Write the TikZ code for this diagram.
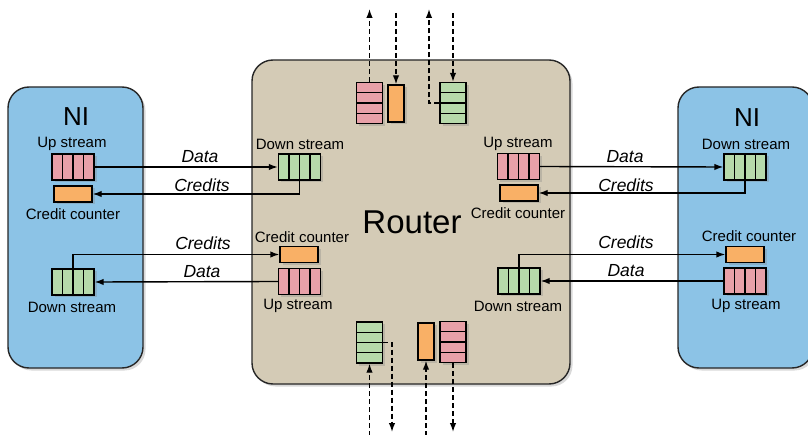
\documentclass[tikz,border=0pt]{standalone}
\usepackage{fontspec}
\setmainfont{Liberation Sans}
\usetikzlibrary{arrows.meta,shadows,calc}
\definecolor{niblue}{HTML}{8CC3E6}
\definecolor{rbeige}{HTML}{D4CBB6}
\definecolor{qpink}{HTML}{E8A0A8}
\definecolor{qgreen}{HTML}{B7DAAB}
\definecolor{qorange}{HTML}{F9B066}
\begin{document}
\begin{tikzpicture}[x=1pt,y=-1pt,
 shad/.style={drop shadow={shadow xshift=2.5pt,shadow yshift=-2.5pt,opacity=0.3}},
 block/.style={draw=black!85,line width=1.4pt,rounded corners=21pt,shad,inner sep=0},
 qbase/.style={draw=black,line width=1.4pt,inner sep=0,shad},
 hq/.style={qbase,minimum width=42,minimum height=26,
   path picture={\foreach \t in {0.25,0.5,0.75}{\draw[line width=1.4pt] ($(path picture bounding box.north west)!\t!(path picture bounding box.north east)$) -- ($(path picture bounding box.south west)!\t!(path picture bounding box.south east)$);}}},
 vq/.style={qbase,minimum width=26,minimum height=41,
   path picture={\foreach \t in {0.25,0.5,0.75}{\draw[line width=1.4pt] ($(path picture bounding box.north west)!\t!(path picture bounding box.south west)$) -- ($(path picture bounding box.north east)!\t!(path picture bounding box.south east)$);}}},
 ctr/.style={qbase,fill=qorange,minimum width=38,minimum height=16},
 vctr/.style={qbase,fill=qorange,minimum width=16,minimum height=37},
 lbl/.style={font=\fontsize{15}{17}\selectfont,inner sep=0},
 flow/.style={font=\fontsize{17.5}{20}\selectfont\itshape,inner sep=0},
 link/.style={line width=1.4pt,-{Latex[length=9pt,width=6.5pt]}},
 dlink/.style={link,dash pattern=on 5pt off 3pt},
]
\useasboundingbox (0,0) rectangle (808,435);
\clip (0,0) rectangle (808,435);

% blocks
\node[block,fill=niblue,minimum width=135,minimum height=281] (lni) at (75.5,227.5) {};
\node[block,fill=rbeige,minimum width=318,minimum height=324] (rt) at (411,222) {};
\node[block,fill=niblue,minimum width=135,minimum height=281] (rni) at (745.5,227.5) {};

\node[font=\fontsize{26}{30}\selectfont,inner sep=0] (lnit) at (76,117) {NI};
\node[font=\fontsize{26}{30}\selectfont,inner sep=0] (rnit) at (747,118) {NI};
\node[font=\fontsize{33}{38}\selectfont,inner sep=0] (rtt) at (412,222) {Router};

% left NI
\node[lbl] (l1) at (72,144) {Up stream};
\node[hq,fill=qpink] (lup) at (73,167) {};
\node[ctr] (lcc) at (73,194) {};
\node[lbl] (l2) at (73,214) {Credit counter};
\node[hq,fill=qgreen] (ldn) at (73,282) {};
\node[lbl] (l3) at (72,307) {Down stream};

% router left
\node[lbl] (r1) at (300,144) {Down stream};
\node[hq,fill=qgreen] (rdl) at (299.5,167) {};
\node[lbl] (r2) at (302,237) {Credit counter};
\node[ctr] (rcl) at (299,254.5) {};
\node[hq,fill=qpink] (rul) at (299.5,281.5) {};
\node[lbl] (r3) at (298,306) {Up stream};

% router right
\node[lbl] (r4) at (518,144) {Up stream};
\node[hq,fill=qpink] (rur) at (518.5,166.5) {};
\node[ctr] (rcr) at (519,193) {};
\node[lbl] (r5) at (518,213) {Credit counter};
\node[hq,fill=qgreen] (rdr) at (519,281) {};
\node[lbl] (r6) at (518,306) {Down stream};

% right NI
\node[lbl] (n1) at (746,144) {Down stream};
\node[hq,fill=qgreen] (ndn) at (745,167) {};
\node[lbl] (n2) at (749,236) {Credit counter};
\node[ctr] (ncc) at (745,254.5) {};
\node[hq,fill=qpink] (nup) at (745,281) {};
\node[lbl] (n3) at (746,306) {Up stream};

% router top
\node[vq,fill=qpink] (tup) at (369.5,103) {};
\node[vctr] (tcc) at (396,103.5) {};
\node[vq,fill=qgreen] (tdn) at (453,103) {};
% router bottom
\node[vq,fill=qgreen] (bdn) at (369.5,342.5) {};
\node[vctr] (bcc) at (426,341.5) {};
\node[vq,fill=qpink] (bup) at (453,342) {};

% horizontal links
\draw[link] (lup.east) -- (rdl.west);
\draw[link] (rdl.south) |- (lcc.east);
\draw[link] (ldn.north) |- (rcl.west);
\draw[link] (rul.west) -- (ldn.east);
\draw[link] (rur.east) -- (ndn.west);
\draw[link] (ndn.south) |- (rcr.east);
\draw[link] (rdr.north) |- (ncc.west);
\draw[link] (nup.west) -- (rdr.east);

\node[flow] (f1) at (200,157) {Data};
\node[flow] (f2) at (202,185) {Credits};
\node[flow] (f3) at (203,243) {Credits};
\node[flow] (f4) at (202,272) {Data};
\node[flow] (f5) at (625,157) {Data};
\node[flow] (f6) at (626,185) {Credits};
\node[flow] (f7) at (626,242) {Credits};
\node[flow] (f8) at (626,271) {Data};

% vertical dashed links
\coordinate (t1) at (369.5,9);
\coordinate (t2) at (396,13);
\coordinate (t3) at (429,9);
\coordinate (t4) at (453,13);
\draw[dlink] (tup.north) -- (t1);
\draw[dlink] (t2) -- (tcc.north);
\draw[dlink] (tdn.west) -| (t3);
\draw[dlink] (t4) -- (tdn.north);

\coordinate (b1) at (369.5,436);
\coordinate (b2) at (392,432);
\coordinate (b3) at (426,436);
\coordinate (b4) at (453,432);
\draw[dlink] (b1) -- (bdn.south);
\draw[dlink] (bdn.east) -| (b2);
\draw[dlink] (b3) -- (bcc.south);
\draw[dlink] (bup.south) -- (b4);
\end{tikzpicture}
\end{document}
